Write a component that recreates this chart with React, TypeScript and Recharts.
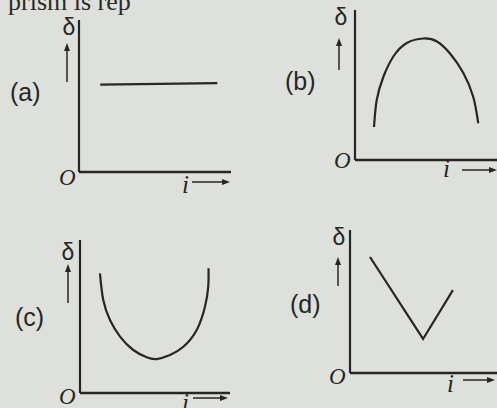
import { LineChart, Line, XAxis, YAxis } from "recharts"

// (a) constant deviation
const aI = [1.4, 9.1]
const aDelta = [5.75, 5.85]

// (b) arch
const bI = [1.34, 1.53, 2.0, 2.7, 3.65, 4.82, 5.77, 6.69, 7.63, 8.33, 8.68]
const bDelta = [2.2, 4.0, 5.55, 6.9, 7.8, 8.1, 7.9, 7.1, 5.8, 4.2, 2.45]

// (c) U shaped
const cI = [1.33, 1.55, 2.0, 2.67, 3.55, 4.45, 5.11, 6.0, 6.89, 7.78, 8.33, 8.55, 8.57]
const cDelta = [7.82, 6.08, 4.77, 3.68, 2.81, 2.33, 2.22, 2.48, 3.02, 4.12, 5.64, 6.95, 8.15]

// (d) V shaped
const dI = [1.36, 4.97, 7.0]
const dDelta = [8.11, 2.38, 5.8]

const zip = (xs: number[], ys: number[]) => xs.map((x, k) => ({ i: x, delta: ys[k] }))

const ink = "#262626"

type PanelProps = {
  data: { i: number; delta: number }[]
  left: number
  top: number
  width: number
  height: number
  margin: { top: number; right: number; bottom: number; left: number }
  curve: "linear" | "natural"
}

function Panel({ data, left, top, width, height, margin, curve }: PanelProps) {
  // axes take 2px each, so pull the margins in by that much
  const m = { ...margin, left: margin.left - 2, bottom: margin.bottom - 2 }
  return (
    <div style={{ position: "absolute", left, top }}>
      <LineChart width={width} height={height} data={data} margin={m}>
        <XAxis
          dataKey="i"
          type="number"
          domain={[0, 10]}
          tick={false}
          tickLine={false}
          height={2}
          axisLine={{ stroke: ink, strokeWidth: 2.6 }}
        />
        <YAxis
          type="number"
          domain={[0, 10]}
          tick={false}
          tickLine={false}
          width={2}
          axisLine={{ stroke: ink, strokeWidth: 2.2 }}
        />
        <Line
          dataKey="delta"
          type={curve}
          stroke={ink}
          strokeWidth={2.2}
          dot={false}
          isAnimationActive={false}
        />
      </LineChart>
    </div>
  )
}

// label positions for each panel
const labels = [
  { name: "(a)", nx: 10, ny: 101, dx: 69, dy: 35, ax: 67, ay1: 82, ay2: 43, ox: 59, oy: 185, ix: 182, iy: 193, rx1: 192, rx2: 230, ry: 182 },
  { name: "(b)", nx: 285, ny: 90, dx: 341, dy: 25, ax: 339, ay1: 70, ay2: 38, ox: 334, oy: 168, ix: 443, iy: 177, rx1: 462, rx2: 497, ry: 170 },
  { name: "(c)", nx: 15, ny: 326, dx: 68, dy: 260, ax: 68, ay1: 303, ay2: 264, ox: 59, oy: 404, ix: 182, iy: 411, rx1: 193, rx2: 228, ry: 398 },
  { name: "(d)", nx: 290, ny: 313, dx: 339, dy: 245, ax: 338, ay1: 286, ay2: 257, ox: 329, oy: 384, ix: 447, iy: 392, rx1: 463, rx2: 495, ry: 380 },
]

export default function App() {
  return (
    <div
      style={{
        position: "absolute",
        left: 0,
        top: 0,
        width: 497,
        height: 408,
        overflow: "hidden",
        background: "#dee1db",
      }}
    >
      <svg width={497} height={408} style={{ position: "absolute", left: 0, top: 0 }}>
        <text x={8} y={10} fontFamily="Liberation Serif, serif" fontSize={26} fill="#2a2a2a">
          prism is rep
        </text>
      </svg>

      <Panel data={zip(aI, aDelta)} left={0} top={0} width={250} height={200}
        margin={{ top: 20, right: 19, bottom: 28, left: 79 }} curve="linear" />
      <Panel data={zip(bI, bDelta)} left={250} top={0} width={247} height={200}
        margin={{ top: 10, right: 0, bottom: 40, left: 105 }} curve="natural" />
      <Panel data={zip(cI, cDelta)} left={0} top={200} width={250} height={208}
        margin={{ top: 40, right: 20, bottom: 15, left: 80 }} curve="natural" />
      <Panel data={zip(dI, dDelta)} left={250} top={200} width={247} height={208}
        margin={{ top: 30, right: 0, bottom: 35, left: 100 }} curve="linear" />

      <svg width={497} height={408} style={{ position: "absolute", left: 0, top: 0 }}>
        {labels.map((l) => (
          <g key={l.name} fill={ink} stroke="none">
            <text x={l.nx} y={l.ny} fontFamily="Liberation Sans, Arial" fontSize={25}>{l.name}</text>
            <text x={l.dx} y={l.dy} textAnchor="middle" fontFamily="Liberation Sans, Arial" fontSize={23}>δ</text>
            <line x1={l.ax} y1={l.ay1} x2={l.ax} y2={l.ay2 + 5} stroke={ink} strokeWidth={1.5} />
            <polygon points={`${l.ax - 3},${l.ay2 + 8} ${l.ax + 3},${l.ay2 + 8} ${l.ax},${l.ay2}`} />
            <text x={l.ox} y={l.oy} fontFamily="Liberation Serif, serif" fontStyle="italic" fontSize={23}>O</text>
            <text x={l.ix} y={l.iy} fontFamily="Liberation Serif, serif" fontStyle="italic" fontSize={25}>i</text>
            <line x1={l.rx1} y1={l.ry} x2={l.rx2 - 5} y2={l.ry} stroke={ink} strokeWidth={1.5} />
            <polygon points={`${l.rx2 - 8},${l.ry - 3} ${l.rx2 - 8},${l.ry + 3} ${l.rx2},${l.ry}`} />
          </g>
        ))}
      </svg>
    </div>
  )
}
